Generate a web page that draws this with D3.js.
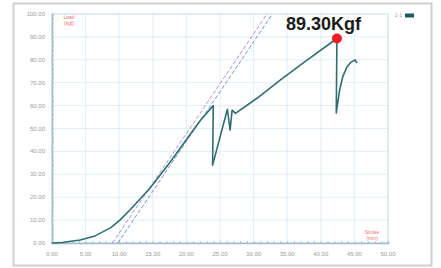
<!DOCTYPE html>
<html>
<head>
<meta charset="utf-8">
<script src="https://cdn.jsdelivr.net/npm/d3@7"></script>
<style>
body { margin: 0; background: #fff; }
svg { display: block; font-family: "Liberation Sans", Arial, sans-serif; }
</style>
</head>
<body>
<svg id="chart" width="441" height="268"></svg>
<script>
// stroke (mm) / load (kgf)
var strokeVals = [0, 1.5, 4.2, 6.4, 8.7, 10.1, 11.6, 13.1, 14.6, 16.1, 17.6, 19.1, 20.6, 22.1, 24.0, 23.9, 26.1, 26.5, 26.8, 27.3, 30.5, 34.0, 38.0, 42.4, 42.3, 42.8, 43.3, 43.9, 44.5, 45.1, 45.4];
var loadVals   = [0, 0.2, 1.3, 3.1, 6.6, 10.0, 14.4, 19.2, 24.0, 29.7, 35.4, 41.5, 47.6, 53.6, 60.0, 34.0, 58.4, 49.3, 58.0, 56.6, 63.2, 71.2, 80.0, 89.3, 56.8, 66.8, 72.9, 76.9, 79.0, 79.9, 78.6];
// two offset tangent lines (dashed)
var tangentA = [[9.0, 0], [32.0, 100]];
var tangentB = [[9.8, 0], [32.8, 100]];
var xTicks = [0, 5, 10, 15, 20, 25, 30, 35, 40, 45, 50];
var yTicks = [0, 10, 20, 30, 40, 50, 60, 70, 80, 90, 100];
var peakStroke = 42.4, peakLoad = 89.3;
var peakLabel = "89.30Kgf";
var seriesName = "1-1";

var svg = d3.select("#chart");
var x = d3.scaleLinear().domain([0, 50]).range([52, 388]);
var y = d3.scaleLinear().domain([0, 100]).range([243, 14]);

// outer frame
svg.append("rect").attr("x", 13.5).attr("y", 3.5).attr("width", 418).attr("height", 262)
	.attr("fill", "#fff").attr("stroke", "#cfcfcf").attr("stroke-width", 2);

// grid
svg.append("g").selectAll("line").data(xTicks.slice(1, -1)).enter().append("line")
	.attr("x1", function(d) { return x(d); }).attr("x2", function(d) { return x(d); })
	.attr("y1", y(0)).attr("y2", y(100))
	.attr("stroke", "#e1edf6").attr("stroke-width", 1);
svg.append("g").selectAll("line").data(yTicks.slice(1, -1)).enter().append("line")
	.attr("x1", x(0)).attr("x2", x(50))
	.attr("y1", function(d) { return y(d); }).attr("y2", function(d) { return y(d); })
	.attr("stroke", "#e1edf6").attr("stroke-width", 1);

// plot box
svg.append("rect").attr("x", x(0)).attr("y", y(100))
	.attr("width", x(50) - x(0)).attr("height", y(0) - y(100))
	.attr("fill", "none").attr("stroke", "#c6d8e4").attr("stroke-width", 1);

// axes
var xAxis = svg.append("g").attr("transform", "translate(0," + y(0) + ")")
	.call(d3.axisBottom(x).tickValues(d3.range(0, 51, 1)).tickSize(-2).tickFormat(""));
var yAxis = svg.append("g").attr("transform", "translate(" + x(0) + ",0)")
	.call(d3.axisLeft(y).tickValues(d3.range(0, 101, 2)).tickSize(-2).tickFormat(""));
[xAxis, yAxis].forEach(function(g) {
	g.select(".domain").attr("stroke", "#9fbccd").attr("stroke-width", 1.5);
	g.selectAll(".tick line").attr("stroke", "#a9c2d2");
});
svg.append("g").selectAll("text").data(xTicks).enter().append("text")
	.attr("x", function(d) { return x(d); }).attr("y", 256)
	.attr("text-anchor", "middle").attr("font-size", 6).attr("fill", "#9a9a9a")
	.text(function(d) { return d.toFixed(2); });
svg.append("g").selectAll("text").data(yTicks).enter().append("text")
	.attr("x", 45).attr("y", function(d) { return y(d) + 2; })
	.attr("text-anchor", "end").attr("font-size", 6).attr("fill", "#9a9a9a")
	.text(function(d) { return d.toFixed(2); });

// axis titles (red)
svg.append("text").attr("x", 69).attr("y", 19).attr("text-anchor", "middle")
	.attr("font-size", 5).attr("fill", "#f07070").text("Load");
svg.append("text").attr("x", 69).attr("y", 25).attr("text-anchor", "middle")
	.attr("font-size", 5).attr("fill", "#f07070").text("(kgf)");
svg.append("text").attr("x", 372).attr("y", 234).attr("text-anchor", "middle")
	.attr("font-size", 5).attr("fill", "#f07070").text("Stroke");
svg.append("text").attr("x", 372).attr("y", 240).attr("text-anchor", "middle")
	.attr("font-size", 5).attr("fill", "#f07070").text("(mm)");

// tangent lines
var line = d3.line().x(function(d) { return x(d[0]); }).y(function(d) { return y(d[1]); });
svg.append("path").datum(tangentA).attr("d", line)
	.attr("fill", "none").attr("stroke", "#b48fd6").attr("stroke-width", 1).attr("stroke-dasharray", "4,2");
svg.append("path").datum(tangentB).attr("d", line)
	.attr("fill", "none").attr("stroke", "#7b93d6").attr("stroke-width", 1).attr("stroke-dasharray", "4,2");

// curve
var pts = strokeVals.map(function(s, i) { return [s, loadVals[i]]; });
svg.append("path").datum(pts).attr("d", line)
	.attr("fill", "none").attr("stroke", "#2f6f72").attr("stroke-width", 1.6)
	.attr("stroke-linejoin", "round");

// peak
svg.append("circle").attr("cx", x(peakStroke)).attr("cy", y(peakLoad)).attr("r", 5)
	.attr("fill", "#ee1c25");
svg.append("text").attr("x", 286).attr("y", 30).attr("font-size", 18).attr("font-weight", "bold")
	.attr("fill", "#1a1a1a").text(peakLabel);

// legend
svg.append("text").attr("x", 402).attr("y", 17).attr("text-anchor", "end")
	.attr("font-size", 5).attr("fill", "#9a9a9a").text(seriesName);
svg.append("rect").attr("x", 405).attr("y", 13.5).attr("width", 9).attr("height", 4)
	.attr("fill", "#1d5a5c");
</script>
</body>
</html>
